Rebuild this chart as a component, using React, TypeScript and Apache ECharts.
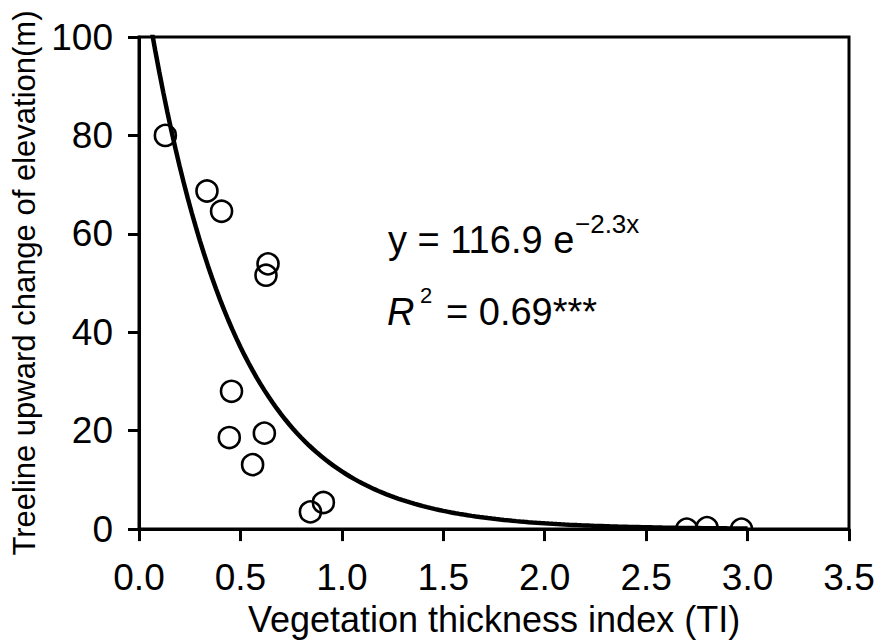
import React, { useEffect, useRef } from "react";
import * as echarts from "echarts";

// Observed points: vegetation thickness index (TI) vs treeline upward shift (m)
const TI = [0.13, 0.335, 0.407, 0.636, 0.626, 0.456, 0.445, 0.618, 0.56, 0.909, 0.845, 2.7, 2.8, 2.97];
const ELEV = [80, 68.7, 64.6, 53.9, 51.6, 28.0, 18.6, 19.5, 13.1, 5.4, 3.5, 0, 0.3, 0];

// Fitted exponential model shown in the chart: y = 116.9 e^(-2.3x)
const FIT_A = 116.9;
const FIT_B = -2.3;
const FIT_X_START = 0;
const FIT_X_END = 3.0;
const FIT_STEPS = 150;

const X_TICKS = [0, 0.5, 1, 1.5, 2, 2.5, 3, 3.5];
const Y_TICKS = [0, 20, 40, 60, 80, 100];

const FONT = "'Liberation Sans', Arial, sans-serif";

export default function App() {
  const ref = useRef<HTMLDivElement>(null);

  useEffect(() => {
    if (!ref.current) return;
    const chart = echarts.init(ref.current, null, { renderer: "svg" });

    const points = TI.map((x, i) => [x, ELEV[i]]);
    const fit: number[][] = [];
    for (let i = 0; i <= FIT_STEPS; i++) {
      const x = FIT_X_START + ((FIT_X_END - FIT_X_START) * i) / FIT_STEPS;
      fit.push([x, FIT_A * Math.exp(FIT_B * x)]);
    }

    chart.setOption({
      animation: false,
      backgroundColor: "#fff",
      grid: {
        left: 139,
        top: 37,
        width: 710,
        height: 495,
        show: true,
        borderColor: "#000",
        borderWidth: 3,
        backgroundColor: "transparent",
      },
      xAxis: {
        type: "value",
        min: X_TICKS[0],
        max: X_TICKS[X_TICKS.length - 1],
        interval: 0.5,
        name: "Vegetation thickness index (TI)",
        nameLocation: "middle",
        nameGap: 65,
        nameTextStyle: { fontSize: 36, fontFamily: FONT, color: "#000" },
        axisLine: { show: true, onZero: false, lineStyle: { color: "#000", width: 3 } },
        axisTick: { show: true, inside: false, length: 12, lineStyle: { color: "#000", width: 3 } },
        axisLabel: {
          fontSize: 37,
          fontFamily: FONT,
          color: "#000",
          margin: 30,
          formatter: (v: number) => v.toFixed(1),
        },
        splitLine: { show: false },
      },
      yAxis: {
        type: "value",
        min: Y_TICKS[0],
        max: Y_TICKS[Y_TICKS.length - 1],
        interval: 20,
        name: "Treeline upward change of elevation(m)",
        nameLocation: "middle",
        nameGap: 96,
        nameTextStyle: { fontSize: 31, fontFamily: FONT, color: "#000" },
        axisLine: { show: true, onZero: false, lineStyle: { color: "#000", width: 3 } },
        axisTick: { show: true, inside: false, length: 11, lineStyle: { color: "#000", width: 3 } },
        axisLabel: { fontSize: 37, fontFamily: FONT, color: "#000", margin: 26 },
        splitLine: { show: false },
      },
      series: [
        {
          type: "line",
          data: fit,
          showSymbol: false,
          symbol: "none",
          clip: true,
          lineStyle: { color: "#000", width: 4.5 },
          z: 2,
        },
        {
          type: "custom",
          data: points,
          clip: true,
          encode: { x: 0, y: 1 },
          z: 3,
          renderItem: (params: any, api: any) => {
            const p = api.coord([api.value(0), api.value(1)]);
            return {
              type: "circle",
              shape: { cx: p[0], cy: p[1], r: 10.5 },
              style: { fill: "none", stroke: "#000", lineWidth: 2.6 },
            };
          },
        },
      ],
      graphic: [
        {
          type: "text",
          x: 388,
          y: 240,
          style: { text: "y = 116.9 e", fontSize: 38, fontFamily: FONT, fill: "#000", verticalAlign: "middle" },
        },
        {
          type: "text",
          x: 575,
          y: 224,
          style: { text: "\u22122.3x", fontSize: 26, fontFamily: FONT, fill: "#000", verticalAlign: "middle" },
        },
        {
          type: "text",
          x: 387,
          y: 311.5,
          style: { text: "R", fontSize: 38, fontStyle: "italic", fontFamily: FONT, fill: "#000", verticalAlign: "middle" },
        },
        {
          type: "text",
          x: 420,
          y: 295,
          style: { text: "2", fontSize: 22, fontFamily: FONT, fill: "#000", verticalAlign: "middle" },
        },
        {
          type: "text",
          x: 446,
          y: 311.5,
          style: { text: "= 0.69***", fontSize: 38, fontFamily: FONT, fill: "#000", verticalAlign: "middle" },
        },
      ],
    });

    return () => chart.dispose();
  }, []);

  return (
    <div
      ref={ref}
      style={{ position: "fixed", left: 0, top: 0, width: 882, height: 642, background: "#fff" }}
    />
  );
}
